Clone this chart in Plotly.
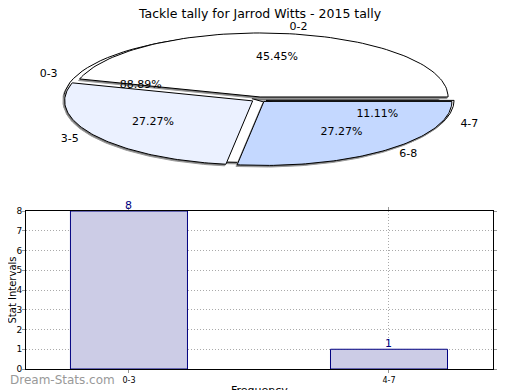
import numpy as np
import plotly.graph_objects as go

# ---- data ----
pie_a_labels = ["0-2", "3-5", "6-8"]
pie_a_values = [5, 3, 3]
pie_a_colors = ["#ffffff", "#ebf1ff", "#c4d8ff"]

pie_b_labels = ["0-3", "4-7"]
pie_b_values = [8, 1]
pie_b_colors = ["#ffffff", "#ffffff"]

bar_categories = ["0-3", "4-7"]
bar_values = [8, 1]
y_ticks = [0, 1, 2, 3, 4, 5, 6, 7, 8]

title = "Tackle tally for Jarrod Witts - 2015 tally"

# page offset of the figure inside the browser window (body margin)
OFF = 8
W, H = 520, 390


def px(x):  # screen x -> paper x
    return (x - OFF) / W


def py(y):  # screen y -> paper y
    return 1 - (y - OFF) / H


# ---- pie geometry (elliptical, drawn on a hidden axis in screen pixels) ----
CX, CY, RX, RY = 259.0, 99.5, 188.0, 64.0
EXPLODE = 0.04
LABEL_K = 1.14
PCT_K = 0.63

fig = go.Figure()


def slice_path(a0, a1, dx, dy):
    t = np.linspace(a0, a1, 90)
    xs = np.concatenate([[CX + dx], CX + dx + RX * np.cos(t), [CX + dx]])
    ys = np.concatenate([[CY + dy], CY + dy - RY * np.sin(t), [CY + dy]])
    return xs, ys


def draw_pie(labels, values, colors):
    total = float(sum(values))
    start = 0.0
    geo = []
    for lab, v, c in zip(labels, values, colors):
        span = 2 * np.pi * v / total
        a0, a1 = start, start + span
        mid = (a0 + a1) / 2
        dx = EXPLODE * RX * np.cos(mid)
        dy = -EXPLODE * RY * np.sin(mid)
        geo.append((lab, v, c, a0, a1, mid, dx, dy))
        start = a1
    for lab, v, c, a0, a1, mid, dx, dy in geo:
        xs, ys = slice_path(a0, a1, dx - 1.2, dy + 1.6)
        fig.add_trace(go.Scatter(x=xs, y=ys, mode="lines", fill="toself",
                                 fillcolor="#7a7a7a",
                                 line=dict(color="#9a9a9a", width=1),
                                 xaxis="x2", yaxis="y2", hoverinfo="skip",
                                 showlegend=False))
    for lab, v, c, a0, a1, mid, dx, dy in geo:
        xs, ys = slice_path(a0, a1, dx, dy)
        fig.add_trace(go.Scatter(x=xs, y=ys, mode="lines", fill="toself",
                                 fillcolor=c, line=dict(color="black", width=1),
                                 xaxis="x2", yaxis="y2", hoverinfo="skip",
                                 showlegend=False))
    return geo, total


geo_b, tot_b = draw_pie(pie_b_labels, pie_b_values, pie_b_colors)
geo_a, tot_a = draw_pie(pie_a_labels, pie_a_values, pie_a_colors)

for geo, total in [(geo_b, tot_b), (geo_a, tot_a)]:
    for lab, v, c, a0, a1, mid, dx, dy in geo:
        lx = CX + LABEL_K * RX * np.cos(mid)
        ly = CY - LABEL_K * RY * np.sin(mid)
        pos = "middle right" if np.cos(mid) >= 0 else "middle left"
        fig.add_trace(go.Scatter(x=[lx], y=[ly], mode="text", text=[lab],
                                 textposition=pos,
                                 textfont=dict(family="DejaVu Sans", size=11, color="black"),
                                 xaxis="x2", yaxis="y2", hoverinfo="skip",
                                 showlegend=False))
        cx_ = CX + dx + PCT_K * RX * np.cos(mid)
        cy_ = CY + dy - PCT_K * RY * np.sin(mid)
        fig.add_trace(go.Scatter(x=[cx_], y=[cy_], mode="text",
                                 text=["%.2f%%" % (100.0 * v / total)],
                                 textposition="middle center",
                                 textfont=dict(family="DejaVu Sans", size=11, color="black"),
                                 xaxis="x2", yaxis="y2", hoverinfo="skip",
                                 showlegend=False))

# ---- bar chart ----
fig.add_trace(go.Bar(x=bar_categories, y=bar_values, width=0.45,
                     marker=dict(color="#ccccE6", line=dict(color="#000080", width=1)),
                     showlegend=False, hoverinfo="skip"))

value_labels = [dict(x=c, y=v, xref="x", yref="y", text=str(v), showarrow=False,
                     xanchor="center", yanchor="bottom", yshift=-3,
                     font=dict(family="DejaVu Sans", size=11, color="#000080"))
                for c, v in zip(bar_categories, bar_values)]

GRID = dict(showgrid=True, gridcolor="#aaaaaa", griddash="1px,2px", gridwidth=1)

fig.update_layout(
    width=W, height=H,
    margin=dict(l=0, r=0, t=0, b=0),
    paper_bgcolor="white", plot_bgcolor="white",
    font=dict(family="DejaVu Sans", color="black"),
    xaxis=dict(domain=[px(26), px(493)], type="category", range=[-0.396, 1.4],
               showline=True, linecolor="black", linewidth=1, mirror="ticks",
               ticks="outside", ticklen=3, tickcolor="#999",
               tickfont=dict(family="DejaVu Sans", size=8),
               automargin=False, fixedrange=True, **GRID),
    yaxis=dict(domain=[py(369), py(211)], range=[0, 8], tickvals=y_ticks,
               showline=True, linecolor="black", linewidth=1, mirror="ticks",
               ticks="outside", ticklen=3, tickcolor="#999",
               tickfont=dict(family="DejaVu Sans", size=9), ticklabelstandoff=-2,
               zeroline=False, automargin=False, fixedrange=True, **GRID),
    xaxis2=dict(domain=[0, 1], range=[OFF, OFF + W], visible=False, fixedrange=True),
    yaxis2=dict(domain=[py(203), 1], range=[203, OFF], visible=False, fixedrange=True),
    annotations=value_labels + [
        dict(text=title, x=px(260), y=py(14), xref="paper", yref="paper",
             xanchor="center", yanchor="middle", showarrow=False,
             font=dict(family="DejaVu Sans", size=12.5, color="black")),
        dict(text="Stat Intervals", x=px(11.5), y=py(290), xref="paper", yref="paper",
             xanchor="center", yanchor="middle", showarrow=False, textangle=-90,
             font=dict(family="DejaVu Sans", size=10, color="black")),
        dict(text="Frequency", x=px(259), y=py(390), xref="paper", yref="paper",
             xanchor="center", yanchor="middle", showarrow=False,
             font=dict(family="DejaVu Sans", size=11, color="black")),
        dict(text="Dream-Stats.com", x=0, y=py(380), xref="paper", yref="paper",
             xanchor="left", yanchor="middle", showarrow=False,
             font=dict(family="DejaVu Sans", size=12, color="#999999")),
    ],
)

fig.write_html("out.html")
